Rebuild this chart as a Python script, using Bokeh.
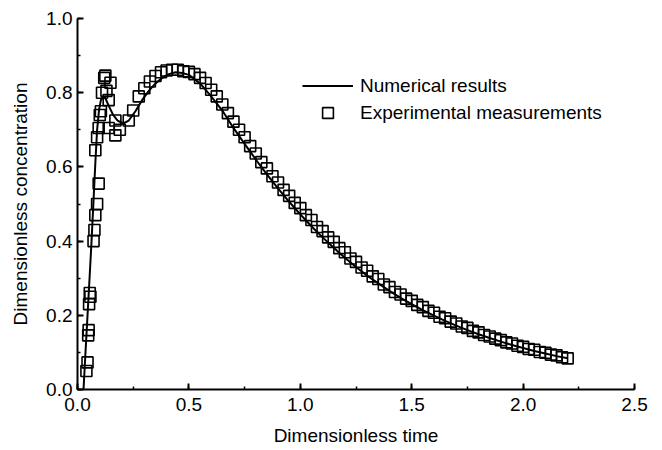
from bokeh.plotting import figure
from bokeh.models import (Legend, LegendItem, SingleIntervalTicker, Range1d,
                          CustomJSTickFormatter)
from bokeh.embed import file_html
from bokeh.resources import INLINE

# Numerical results (dimensionless time, concentration)
num_t = [0.020, 0.027, 0.035, 0.045, 0.055, 0.063, 0.072, 0.080, 0.088, 0.097,
         0.105, 0.115, 0.125, 0.140, 0.160, 0.180, 0.205, 0.230, 0.260, 0.290,
         0.320, 0.350, 0.380, 0.410, 0.440, 0.470, 0.500, 0.550, 0.600, 0.650,
         0.700, 0.750, 0.800, 0.850, 0.900, 0.950, 1.000, 1.050, 1.100, 1.150,
         1.200, 1.250, 1.300, 1.350, 1.400, 1.450, 1.500, 1.550, 1.600, 1.650,
         1.700, 1.750, 1.800, 1.850, 1.900, 1.950, 2.000, 2.050, 2.100, 2.150,
         2.200]
num_c = [0.000, 0.000, 0.090, 0.200, 0.310, 0.400, 0.510, 0.610, 0.700, 0.755,
         0.780, 0.790, 0.785, 0.765, 0.740, 0.725, 0.717, 0.725, 0.750, 0.780,
         0.805, 0.825, 0.840, 0.850, 0.855, 0.853, 0.848, 0.825, 0.790, 0.752,
         0.705, 0.662, 0.620, 0.580, 0.542, 0.506, 0.472, 0.440, 0.410, 0.382,
         0.355, 0.330, 0.307, 0.286, 0.266, 0.247, 0.230, 0.214, 0.199, 0.185,
         0.172, 0.160, 0.149, 0.139, 0.129, 0.120, 0.112, 0.104, 0.097, 0.090,
         0.084]

# Experimental measurements
exp_t = [0.040, 0.045, 0.048, 0.050, 0.052, 0.055, 0.058, 0.072, 0.076, 0.080,
         0.088, 0.095, 0.080, 0.088, 0.095, 0.100, 0.105, 0.110, 0.120, 0.125,
         0.130, 0.140, 0.148, 0.140, 0.170, 0.170, 0.190, 0.230, 0.250, 0.275,
         0.300, 0.325, 0.350, 0.375, 0.400, 0.425, 0.450, 0.475, 0.500, 0.525,
         0.550, 0.575, 0.600, 0.625, 0.650, 0.675, 0.700, 0.725, 0.750, 0.775,
         0.800, 0.825, 0.850, 0.875, 0.900, 0.925, 0.950, 0.975, 1.000, 1.025,
         1.050, 1.075, 1.100, 1.125, 1.150, 1.175, 1.200, 1.225, 1.250, 1.275,
         1.300, 1.325, 1.350, 1.375, 1.400, 1.425, 1.450, 1.475, 1.500, 1.525,
         1.550, 1.575, 1.600, 1.625, 1.650, 1.675, 1.700, 1.725, 1.750, 1.775,
         1.800, 1.825, 1.850, 1.875, 1.900, 1.925, 1.950, 1.975, 2.000, 2.025,
         2.050, 2.075, 2.100, 2.125, 2.150, 2.175, 2.200]
exp_c = [0.050, 0.073, 0.146, 0.160, 0.230, 0.260, 0.250, 0.400, 0.430, 0.470,
         0.500, 0.555, 0.645, 0.680, 0.705, 0.740, 0.750, 0.800, 0.840, 0.846,
         0.805, 0.780, 0.827, 0.705, 0.725, 0.685, 0.700, 0.725, 0.752, 0.790,
         0.812, 0.830, 0.845, 0.855, 0.860, 0.862, 0.862, 0.858, 0.856, 0.850,
         0.840, 0.826, 0.808, 0.790, 0.768, 0.745, 0.722, 0.700, 0.680, 0.656,
         0.636, 0.613, 0.596, 0.575, 0.558, 0.538, 0.522, 0.503, 0.489, 0.470,
         0.457, 0.438, 0.427, 0.410, 0.398, 0.381, 0.370, 0.353, 0.344, 0.329,
         0.320, 0.305, 0.298, 0.283, 0.276, 0.263, 0.256, 0.245, 0.239, 0.228,
         0.222, 0.212, 0.207, 0.196, 0.192, 0.183, 0.178, 0.170, 0.166, 0.158,
         0.154, 0.147, 0.143, 0.137, 0.133, 0.127, 0.124, 0.118, 0.115, 0.109,
         0.107, 0.101, 0.099, 0.094, 0.092, 0.087, 0.084]

x_ticks_interval = 0.5
y_ticks_interval = 0.2
x_label = "Dimensionless time"
y_label = "Dimensionless concentration"
legend_labels = ["Numerical results", "Experimental measurements"]

FONT = "Liberation Sans"

p = figure(width=662, height=450, output_backend="svg", toolbar_location=None,
           x_range=Range1d(0, 2.5), y_range=Range1d(0, 1.0),
           min_border_left=77, min_border_right=28, min_border_top=18,
           min_border_bottom=61)
p.outline_line_color = None
p.xgrid.visible = False
p.ygrid.visible = False
p.background_fill_color = "white"
p.border_fill_color = "white"

line_r = p.line(num_t, num_c, line_color="black", line_width=2)
sq_r = p.scatter(exp_t, exp_c, marker="square", size=11, fill_color=None,
                 line_color="black", line_width=1.6)

for ax, tick in ((p.xaxis[0], x_ticks_interval), (p.yaxis[0], y_ticks_interval)):
    ax.ticker = SingleIntervalTicker(interval=tick, num_minor_ticks=2)
    ax.axis_line_width = 2
    ax.axis_line_color = "black"
    ax.major_tick_in = 6
    ax.major_tick_out = 0
    ax.minor_tick_in = 3
    ax.minor_tick_out = 0
    ax.major_tick_line_width = 2
    ax.minor_tick_line_width = 1.5
    ax.major_label_text_font = FONT
    ax.major_label_text_font_size = "19px"
    ax.major_label_text_color = "black"
    ax.axis_label_text_font = FONT
    ax.axis_label_text_font_size = "19px"
    ax.axis_label_text_font_style = "normal"
    ax.axis_label_text_color = "black"

p.xaxis.axis_label = x_label
p.yaxis.axis_label = y_label
fmt = CustomJSTickFormatter(code="return tick.toFixed(1);")
p.xaxis.formatter = fmt
p.yaxis.formatter = fmt
p.xaxis.major_label_standoff = 8
p.yaxis.major_label_standoff = 5
p.xaxis.axis_label_standoff = 11
p.yaxis.axis_label_standoff = 12

legend = Legend(items=[LegendItem(label=legend_labels[0], renderers=[line_r]),
                       LegendItem(label=legend_labels[1], renderers=[sq_r])],
                location=(225, 263), padding=0, margin=0, spacing=0,
                border_line_color=None, background_fill_alpha=0,
                glyph_width=51, glyph_height=27, label_height=27,
                label_standoff=7, label_text_font=FONT,
                label_text_font_size="19px", label_text_color="black")
p.add_layout(legend, "center")

open("out.html", "w").write(file_html(p, INLINE))
